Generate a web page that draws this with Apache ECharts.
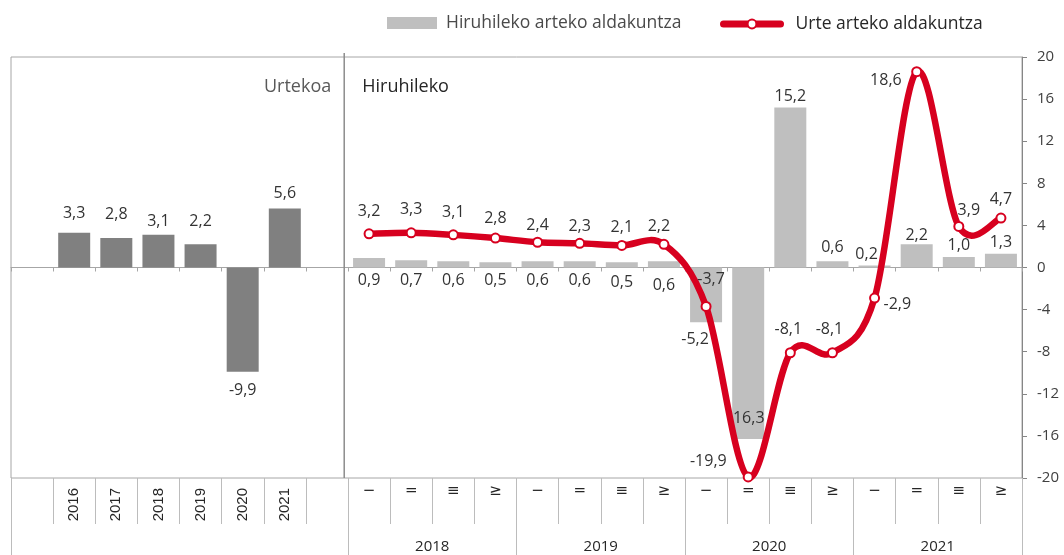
<!DOCTYPE html>
<html><head><meta charset="utf-8">
<script src="https://cdn.jsdelivr.net/npm/echarts@6/dist/echarts.min.js"></script>
<style>html,body{margin:0;padding:0;background:#fff}#c{width:1064px;height:555px}</style>
</head><body><div id="c"></div>
<script>
// ---- data ----
const annualYears = ['2016', '2017', '2018', '2019', '2020', '2021'];
const annualValues = [3.3, 2.8, 3.1, 2.2, -9.9, 5.6];
const quarterYears = ['2018', '2019', '2020', '2021'];
const quarterMarks = ['−', '=', '≡', '≥'];
const quarterlyChange = [0.9, 0.7, 0.6, 0.5, 0.6, 0.6, 0.5, 0.6, -5.2, -16.3, 15.2, 0.6, 0.2, 2.2, 1.0, 1.3];
const yearOnYearChange = [3.2, 3.3, 3.1, 2.8, 2.4, 2.3, 2.1, 2.2, -3.7, -19.9, -8.1, -8.1, -2.9, 18.6, 3.9, 4.7];
const yMin = -20, yMax = 20, yStep = 4;
const seriesNames = ['Hiruhileko arteko aldakuntza', 'Urte arteko aldakuntza'];
const panelTitles = ['Urtekoa', 'Hiruhileko'];

// ---- label placement (style only) ----
const annualLabelDist = [11, 16, 5, 15, 11, 7];
const qBarLabelPos = ['bottom','bottom','bottom','bottom','bottom','bottom','bottom','bottom','bottom','insideBottom','top','top','top','top','top','top'];
const qBarLabelDist = [5, 5, 5, 5, 5, 5, 7, 10, 9, 13, 3, 6, 3, 1, 3.5, 3];
const qBarLabelDx = [0, 0, 0, 0, 0, 0, 0, 0, -11, -2, 0, 0, -8, 0, 0, 0];
const lineLabelPos = ['top','top','top','top','top','top','top','top','top','left','top','top','right','left','top','top'];
const lineLabelDist = [4, 4, 4, 4, 4, 4, 4, 4, 4, 16, 4, 4, 3.5, 9.5, 4, 4];
const lineLabelShift = [[0,-4.5],[0,-5.5],[0,-4.5],[0,-2.5],[0,0.5],[0,0.5],[0,-0.5],[-5,-0.5],[5,-9.5],[0,-16],[-2,-5.5],[-3,-5.5],[0,6],[0,9],[10,1.5],[0,-1.5]];
const TENSION = 1 / 6; // Catmull-Rom style smoothing, as in spreadsheet charts

const RED = '#d7001f';
const FONT = '"Open Sans", "Noto Sans", sans-serif';
const fmt = v => Number(v).toFixed(1).replace('.', ',');

const lead = annualYears.length + 2; // empty + annual + empty
const categories = ['gapA'].concat(annualYears.map(y => 'Y' + y), ['gapB'],
  quarterYears.flatMap(y => quarterMarks.map((m, i) => y + 'Q' + (i + 1))));
const nCat = categories.length;

const labelBase = { show: true, color: '#333', fontFamily: FONT, fontSize: 16, formatter: p => fmt(p.value) };

const annualData = categories.map((c, i) => {
  const k = i - 1;
  if (k < 0 || k >= annualValues.length) return '-';
  const v = annualValues[k];
  return { value: v, label: Object.assign({}, labelBase, { position: v >= 0 ? 'top' : 'bottom', distance: annualLabelDist[k] }) };
});
const quarterBarData = categories.map((c, i) => {
  const k = i - lead;
  if (k < 0) return '-';
  return { value: quarterlyChange[k], label: Object.assign({}, labelBase, { position: qBarLabelPos[k], distance: qBarLabelDist[k], offset: [qBarLabelDx[k], 0] }) };
});
const lineData = categories.map((c, i) => {
  const k = i - lead;
  if (k < 0) return '-';
  return { value: yearOnYearChange[k], label: Object.assign({}, labelBase, { position: lineLabelPos[k], distance: lineLabelDist[k], offset: lineLabelShift[k] }) };
});
const curveData = yearOnYearChange.map((v, k) => [lead + k, v]);

// smoothed segment between consecutive points (unclamped Catmull-Rom Bezier)
function renderCurve(params, api) {
  const k = params.dataIndex;
  const n = curveData.length;
  if (k >= n - 1) return null;
  const P = j => api.coord(curveData[Math.max(0, Math.min(n - 1, j))]);
  const p0 = P(k - 1), p1 = P(k), p2 = P(k + 1), p3 = P(k + 2);
  const c1 = [p1[0] + (p2[0] - p0[0]) * TENSION, p1[1] + (p2[1] - p0[1]) * TENSION];
  const c2 = [p2[0] - (p3[0] - p1[0]) * TENSION, p2[1] - (p3[1] - p1[1]) * TENSION];
  return {
    type: 'bezierCurve',
    shape: { x1: p1[0], y1: p1[1], cpx1: c1[0], cpy1: c1[1], cpx2: c2[0], cpy2: c2[1], x2: p2[0], y2: p2[1] },
    style: { stroke: RED, lineWidth: 6.5, fill: null, lineCap: 'round' }
  };
}

const yearLabelAt = {};
quarterYears.forEach((y, k) => { yearLabelAt[lead + 4 * k + 2] = y; });
const groupEdges = [0, lead].concat(quarterYears.map((y, k) => lead + 4 * (k + 1)));

const chart = echarts.init(document.getElementById('c'), null, { renderer: 'canvas' });
const option = {
  animation: false,
  backgroundColor: '#fff',
  grid: { left: 11, right: 42, top: 57, bottom: 77, show: true, borderColor: '#a6a6a6', borderWidth: 1, containLabel: false },
  legend: [
    { data: [seriesNames[0]], left: 387, top: 14, padding: 0, itemWidth: 50, itemHeight: 12, icon: 'rect',
      textStyle: { fontFamily: FONT, fontSize: 17.5, color: '#4a4a4a', padding: [0, 0, 0, 4] } },
    { data: [seriesNames[1]], left: 720, top: 15, padding: 0, itemWidth: 57, itemHeight: 11,
      lineStyle: { width: 7, cap: 'round', color: RED, opacity: 1 },
      itemStyle: { color: '#fff', borderColor: RED, borderWidth: 2 },
      textStyle: { fontFamily: FONT, fontSize: 17.5, color: '#262626', padding: [0, 0, 0, 10] } }
  ],
  xAxis: [
    { type: 'category', data: categories, position: 'bottom', boundaryGap: true,
      axisLine: { onZero: true, lineStyle: { color: '#a6a6a6', width: 1 } },
      axisTick: { show: true, length: 4, interval: 0, lineStyle: { color: '#a6a6a6' } },
      axisLabel: { show: false }, splitLine: { show: false } },
    { type: 'category', data: categories, position: 'bottom', boundaryGap: true,
      axisLine: { show: false, onZero: false },
      axisTick: { show: true, length: 46, interval: 0, lineStyle: { color: '#bcbcbc' } },
      axisLabel: { show: true, interval: 0, rotate: 90, margin: 10, fontFamily: '"Liberation Sans", Arial, sans-serif', fontSize: 15, color: '#262626',
        formatter: (v, i) => (i >= 1 && i <= annualYears.length) ? annualYears[i - 1] : '' } },
    { type: 'category', data: categories, position: 'bottom', boundaryGap: true,
      axisLine: { show: false, onZero: false }, axisTick: { show: false },
      axisLabel: { show: true, interval: 0, rotate: 0, margin: 6, fontFamily: '"DejaVu Sans", sans-serif', fontSize: 15, color: '#262626',
        formatter: (v, i) => i >= lead ? quarterMarks[(i - lead) % 4] : '' } },
    { type: 'value', min: 0, max: nCat, position: 'bottom',
      axisLine: { show: false, onZero: false },
      axisTick: { show: true, customValues: groupEdges, length: 77, lineStyle: { color: '#bcbcbc' } },
      axisLabel: { show: true, customValues: Object.keys(yearLabelAt).map(Number), margin: 61, fontFamily: FONT, fontSize: 15, color: '#262626',
        formatter: v => yearLabelAt[Math.round(v)] || '' },
      splitLine: { show: false } }
  ],
  yAxis: {
    type: 'value', position: 'right', min: yMin, max: yMax, interval: yStep,
    axisLine: { show: true, onZero: false, lineStyle: { color: '#868686' } },
    axisTick: { show: true, length: 5, lineStyle: { color: '#868686' } },
    axisLabel: { margin: 15, fontFamily: FONT, fontSize: 15, color: '#404040', formatter: v => String(v) },
    splitLine: { show: false }
  },
  series: [
    { name: 'Urtekoa', type: 'bar', xAxisIndex: 0, data: annualData, barWidth: 32, barGap: '-100%',
      itemStyle: { color: '#808080' }, z: 2 },
    { name: seriesNames[0], type: 'bar', xAxisIndex: 0, data: quarterBarData, barWidth: 32, barGap: '-100%',
      itemStyle: { color: '#bfbfbf' }, z: 2 },
    { name: 'curve', type: 'custom', xAxisIndex: 0, data: curveData, renderItem: renderCurve,
      encode: { x: 0, y: 1 }, clip: false, silent: true, z: 4 },
    { name: seriesNames[1], type: 'line', xAxisIndex: 0, data: lineData, smooth: false, clip: false,
      lineStyle: { color: RED, width: 6.5, opacity: 0 }, symbol: 'circle', symbolSize: 9, showAllSymbol: true,
      itemStyle: { color: '#fff', borderColor: RED, borderWidth: 2 }, z: 5 }
  ]
};
chart.setOption(option);

// decorations: panel divider and panel titles, positioned through the axes
const divX = chart.convertToPixel({ xAxisIndex: 3 }, lead - 0.09);
const topY = chart.convertToPixel({ yAxisIndex: 0 }, yMax);
const botY = chart.convertToPixel({ yAxisIndex: 0 }, yMin);
const titleY = chart.convertToPixel({ yAxisIndex: 0 }, 17.2);
chart.setOption({
  graphic: [
    { type: 'line', shape: { x1: divX, y1: topY - 4, x2: divX, y2: botY }, style: { stroke: '#8c8c8c', lineWidth: 1.5 }, z: 10 },
    { type: 'text', x: divX - 13, y: titleY, style: { text: panelTitles[0], fontFamily: FONT, fontSize: 18, fill: '#595959', align: 'right', verticalAlign: 'middle' } },
    { type: 'text', x: divX + 18, y: titleY, style: { text: panelTitles[1], fontFamily: FONT, fontSize: 18, fill: '#262626', align: 'left', verticalAlign: 'middle' } }
  ]
});
</script>
</body></html>
